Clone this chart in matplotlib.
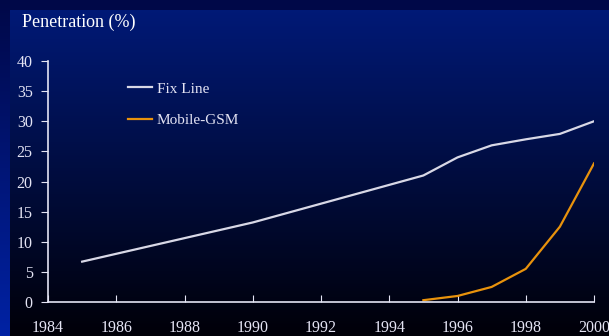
import matplotlib
matplotlib.use('Agg')
import matplotlib.pyplot as plt
import numpy as np

# Data
fix_years = [1985, 1990, 1995, 1996, 1997, 1998, 1999, 2000]
fix_line = [6.7, 13.2, 21.0, 24.0, 26.0, 27.0, 27.9, 30.0]
gsm_years = [1995, 1996, 1997, 1998, 1999, 2000]
mobile_gsm = [0.3, 1.0, 2.5, 5.5, 12.5, 23.0]
x_ticks = list(range(1984, 2001, 2))
y_ticks = list(range(0, 41, 5))

plt.rcParams['font.family'] = ['Liberation Serif', 'DejaVu Serif']
txt = '#e4e4f4'

fig = plt.figure(figsize=(6.09, 3.36), dpi=100)

# background: dark frame + blue-to-black gradient panel
bg = fig.add_axes([0, 0, 1, 1], zorder=0)
bg.set_axis_off()
W, H = 609, 336
img = np.zeros((H, W, 3))
t = np.linspace(0, 1, H)[:, None]
top = np.array([0x00, 0x1a, 0x7a]) / 255
bot = np.array([0x00, 0x00, 0x08]) / 255
img[:, :, :] = (top * (1 - t) + bot * t)[:, None, :]
img[:10, :, :] = np.array([0x00, 0x08, 0x48]) / 255
lt = np.array([0x00, 0x08, 0x48]) / 255
lb = np.array([0x00, 0x22, 0xa4]) / 255
img[:, :10, :] = (lt * (1 - t) + lb * t)[:, None, :]
bg.imshow(img, aspect='auto', extent=[0, 1, 0, 1], origin='upper')
bg.set_xlim(0, 1)
bg.set_ylim(0, 1)

ax = fig.add_axes([48 / W, 1 - 302 / H, (594 - 48) / W, (302 - 61) / H], zorder=1)
ax.patch.set_alpha(0)

ax.plot(fix_years, fix_line, color='#d8d8e6', lw=1.6, label='Fix Line')
ax.plot(gsm_years, mobile_gsm, color='#e8920c', lw=1.6, label='Mobile-GSM')

ax.set_xlim(1984, 2000)
ax.set_ylim(0, 40)
ax.set_xticks(x_ticks)
ax.set_yticks(y_ticks)
for s in ['top', 'right']:
    ax.spines[s].set_visible(False)
for s in ['left', 'bottom']:
    ax.spines[s].set_color(txt)
    ax.spines[s].set_linewidth(1.2)
ax.tick_params(axis='x', direction='in', length=5, color=txt, labelcolor=txt,
               labelsize=11.5, pad=13)
ax.tick_params(axis='y', direction='out', length=5, color=txt, labelcolor=txt,
               labelsize=11.5, pad=6)

leg = ax.legend(loc='upper left', bbox_to_anchor=(0.121, 0.97), frameon=False,
                handlelength=1.6, handletextpad=0.3, labelspacing=1.15,
                fontsize=11, labelcolor=txt)

fig.text(22 / W, 1 - 22 / H, 'Penetration (%)', color='white', fontsize=13,
         va='center', ha='left')

fig.savefig('out.png', dpi=100)
